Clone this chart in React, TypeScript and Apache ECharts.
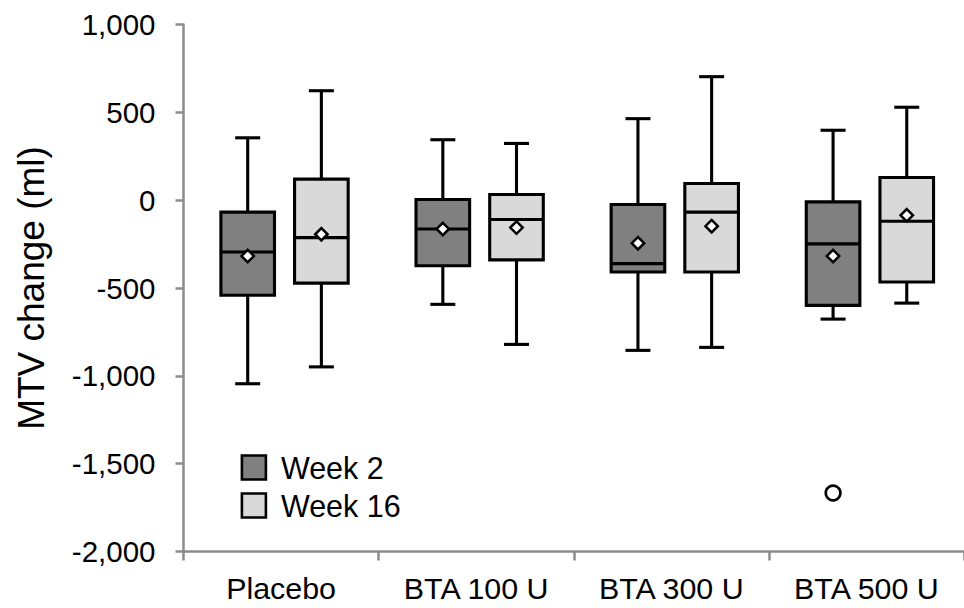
import React, { useEffect, useRef } from 'react';
import * as echarts from 'echarts';

const categories = ['Placebo', 'BTA 100 U', 'BTA 300 U', 'BTA 500 U'];
// each row: [lower whisker, Q1, median, Q3, upper whisker, mean]
const week2Stats = [
  [-1045, -541, -295, -68, 355, -318],
  [-593, -373, -164, 4, 344, -164],
  [-855, -409, -361, -25, 464, -245],
  [-677, -599, -249, -10, 398, -318],
];
const week16Stats = [
  [-949, -472, -213, 120, 623, -194],
  [-821, -340, -110, 32, 323, -156],
  [-838, -409, -68, 95, 703, -148],
  [-586, -466, -120, 129, 529, -86],
];
// [category index, value]
const week2Outliers = [[3, -1667]];
const week16Outliers: number[][] = [];
const seriesNames = ['Week 2', 'Week 16'];
const yMin = -2000;
const yMax = 1000;
const yStep = 500;

const DARK = '#808080';
const LIGHT = '#d9d9d9';
const AXIS = '#8c8c8c';
const FONT = '"Liberation Sans", Arial, Helvetica, sans-serif';
const OFF2 = -0.171;
const OFF16 = 0.2066;
const LW = 3.1;

function fmt(v: number) {
  const s = Math.abs(v).toString().replace(/\B(?=(\d{3})+(?!\d))/g, ',');
  return (v < 0 ? '-' : '') + s;
}

function boxRenderer(offsetFrac: number, fill: string) {
  return (params: any, api: any) => {
    const cat = api.value(0);
    const band = api.size([1, 0])[0];
    const cx = api.coord([cat, 0])[0] + band * offsetFrac;
    const y = (v: number) => api.coord([cat, v])[1];
    const low = y(api.value(1));
    const q1 = y(api.value(2));
    const med = y(api.value(3));
    const q3 = y(api.value(4));
    const high = y(api.value(5));
    const mean = y(api.value(6));
    const hw = 26.8;
    const cap = 12.5;
    const d = 6.2;
    const line = { stroke: '#000', lineWidth: LW };
    return {
      type: 'group',
      children: [
        { type: 'line', shape: { x1: cx, y1: high, x2: cx, y2: q3 }, style: line },
        { type: 'line', shape: { x1: cx, y1: q1, x2: cx, y2: low }, style: line },
        { type: 'line', shape: { x1: cx - cap, y1: high, x2: cx + cap, y2: high }, style: line },
        { type: 'line', shape: { x1: cx - cap, y1: low, x2: cx + cap, y2: low }, style: line },
        {
          type: 'rect',
          shape: { x: cx - hw, y: q3, width: 2 * hw, height: q1 - q3 },
          style: { fill, stroke: '#000', lineWidth: LW },
        },
        { type: 'line', shape: { x1: cx - hw, y1: med, x2: cx + hw, y2: med }, style: line },
        {
          type: 'polygon',
          shape: { points: [[cx, mean - d], [cx + d, mean], [cx, mean + d], [cx - d, mean]] },
          style: { fill: '#fff', stroke: '#000', lineWidth: 2.5 },
        },
      ],
    };
  };
}

function outlierRenderer(offsetFrac: number) {
  return (params: any, api: any) => {
    const cat = api.value(0);
    const band = api.size([1, 0])[0];
    const p = api.coord([cat, api.value(1)]);
    return {
      type: 'circle',
      shape: { cx: p[0] + band * offsetFrac, cy: p[1], r: 7.3 },
      style: { fill: '#fff', stroke: '#000', lineWidth: 2.7 },
    };
  };
}

export default function App() {
  const ref = useRef<HTMLDivElement>(null);
  useEffect(() => {
    if (!ref.current) return;
    const chart = echarts.init(ref.current, undefined, { renderer: 'svg' });
    chart.setOption({
      animation: false,
      backgroundColor: '#fff',
      grid: { left: 183.5, top: 24.5, width: 784, bottom: 56.5, containLabel: false },
      legend: {
        orient: 'vertical',
        left: 240.6,
        top: 452,
        padding: 0,
        icon: 'rect',
        itemWidth: 24,
        itemHeight: 24,
        itemGap: 7,
        selectedMode: false,
        textStyle: { fontSize: 30.5, fontFamily: FONT, color: '#000', padding: [0, 0, 0, 10] },
        data: [
          { name: seriesNames[0], itemStyle: { color: DARK, borderColor: '#000', borderWidth: 2.6 } },
          { name: seriesNames[1], itemStyle: { color: LIGHT, borderColor: '#000', borderWidth: 2.6 } },
        ],
      },
      xAxis: {
        type: 'category',
        data: categories,
        boundaryGap: true,
        axisLine: { onZero: false, lineStyle: { color: AXIS, width: 2.5 } },
        axisTick: { show: true, length: 9, alignWithLabel: false, lineStyle: { color: AXIS, width: 2.5 } },
        axisLabel: { fontSize: 30.4, fontFamily: FONT, color: '#000', margin: 21 },
        splitLine: { show: false },
      },
      yAxis: {
        type: 'value',
        min: yMin,
        max: yMax,
        interval: yStep,
        name: 'MTV change (ml)',
        nameLocation: 'middle',
        nameRotate: 90,
        nameGap: 134,
        nameTextStyle: { fontSize: 37, fontFamily: FONT, color: '#000' },
        axisLine: { show: true, lineStyle: { color: AXIS, width: 2.5 } },
        axisTick: { show: true, length: 8, lineStyle: { color: AXIS, width: 2.5 } },
        axisLabel: { fontSize: 29.5, fontFamily: FONT, color: '#000', margin: 28, formatter: (v: number) => fmt(v) },
        splitLine: { show: false },
      },
      series: [
        {
          name: seriesNames[0],
          type: 'custom',
          itemStyle: { color: DARK },
          renderItem: boxRenderer(OFF2, DARK),
          encode: { x: 0, y: [1, 2, 3, 4, 5, 6] },
          data: week2Stats.map((s, i) => [i, ...s]),
          z: 2,
        },
        {
          name: seriesNames[1],
          type: 'custom',
          itemStyle: { color: LIGHT },
          renderItem: boxRenderer(OFF16, LIGHT),
          encode: { x: 0, y: [1, 2, 3, 4, 5, 6] },
          data: week16Stats.map((s, i) => [i, ...s]),
          z: 2,
        },
        {
          name: 'Week 2 outliers',
          type: 'custom',
          renderItem: outlierRenderer(OFF2),
          encode: { x: 0, y: 1 },
          data: week2Outliers,
          z: 3,
        },
        {
          name: 'Week 16 outliers',
          type: 'custom',
          renderItem: outlierRenderer(OFF16),
          encode: { x: 0, y: 1 },
          data: week16Outliers,
          z: 3,
        },
      ],
    });
    return () => chart.dispose();
  }, []);
  return (
    <div
      ref={ref}
      style={{ position: 'absolute', left: 0, top: 0, width: 964, height: 608, background: '#fff' }}
    />
  );
}
